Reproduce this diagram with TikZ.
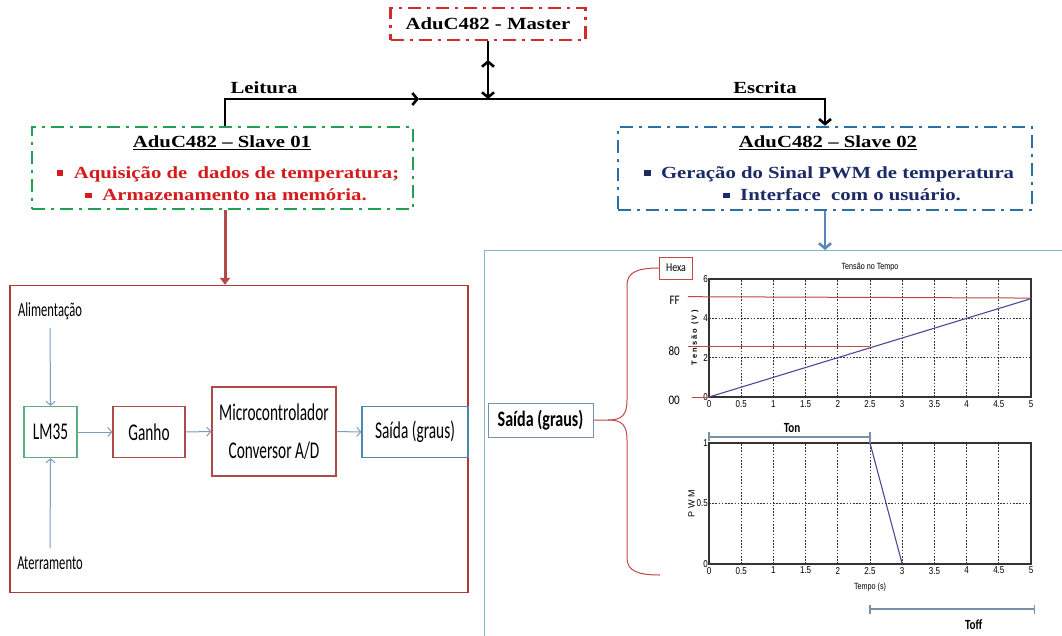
\documentclass[tikz,border=0pt]{standalone}
\usepackage{fontspec}
\setmainfont{Liberation Serif}
\newfontfamily\calfont{Carlito}
\newfontfamily\arifont{Liberation Sans}
\usetikzlibrary{arrows.meta,calc}
\definecolor{mred}{HTML}{D42A2A}
\definecolor{sgreen}{HTML}{20A050}
\definecolor{sblue}{HTML}{2A70A8}
\definecolor{bred}{HTML}{D41C1C}
\definecolor{bnavy}{HTML}{1C2A66}
\definecolor{larr}{HTML}{B24A4A}
\definecolor{rarr}{HTML}{5A86B8}
\definecolor{lpb}{HTML}{B03A3A}
\definecolor{rpb}{HTML}{86B2CC}
\definecolor{thinc}{HTML}{7C9CBC}
\definecolor{boxg}{HTML}{5AAE80}
\definecolor{boxr}{HTML}{B04A4A}
\definecolor{boxb}{HTML}{4A8AAA}
\definecolor{pwmc}{HTML}{4A4A96}
\definecolor{hexc}{HTML}{C04848}
\definecolor{tonc}{HTML}{7890A8}
\definecolor{axc}{HTML}{333333}
\newcommand\tms[1]{\scalebox{1.22}[1]{\fontsize{17}{20}\selectfont\bfseries #1}}
\newcommand\sq{\rule[0.15em]{5.5pt}{5.5pt}}
\newcommand\cf[3]{\scalebox{#2}[1]{\calfont\fontsize{#1}{#1}\selectfont #3}}
\newcommand\cfb[3]{\scalebox{#2}[1]{\calfont\bfseries\fontsize{#1}{#1}\selectfont #3}}
\newcommand\tkf[1]{\scalebox{0.8}[1]{\arifont\fontsize{10}{10}\selectfont #1}}
\begin{document}
\begin{tikzpicture}[x=1pt,y=-1pt,
  dashdot/.style={line width=2.6pt, dash pattern=on 13pt off 6pt on 3pt off 6pt},
  busline/.style={line width=2.6pt, black},
  barb/.style={-{Straight Barb[length=5pt,width=12pt]}},
  txt/.style={inner sep=0pt},
  thinar/.style={draw=thinc, line width=1pt, -{Straight Barb[length=4pt,width=9pt]}},
  blk/.style={line width=1.2pt, inner sep=0pt},
  gridl/.style={axc, line width=0.8pt, dash pattern=on 1.6pt off 1.6pt},
  axisl/.style={axc, line width=1.1pt},
  tk/.style={inner sep=1pt},
  hexl/.style={hexc, line width=1pt},
  tonl/.style={tonc, line width=1.2pt}]
\useasboundingbox (0,0) rectangle (1062,635);
\clip (0,0) rectangle (1062,635);
\fill[white] (0,0) rectangle (1062,635);

% ---- top part ----
\node[dashdot, draw=mred, minimum width=195, minimum height=32, inner sep=0pt] (m) at (488,24) {\tms{AduC482 - Master}};
\node[dashdot, draw=sgreen, minimum width=381, minimum height=82] (s1) at (222.5,168) {};
\node[dashdot, draw=sblue, minimum width=414, minimum height=83] (s2) at (825,168.5) {};
\node[txt] (s1t) at (222,143) {\tms{\underline{AduC482 – Slave 01}}};
\node[txt, text=bred] (s1a) at (228,174) {\tms{\sq\ \ Aquisição de\ \ dados de temperatura;}};
\node[txt, text=bred] (s1b) at (226,195) {\tms{\sq\ \ Armazenamento na memória.}};
\node[txt] (s2t) at (828,143) {\tms{\underline{AduC482 – Slave 02}}};
\node[txt, text=bnavy] (s2a) at (829,174) {\tms{\sq\ \ Geração do Sinal PWM de temperatura}};
\node[txt, text=bnavy] (s2b) at (842,195) {\tms{\sq\ \ Interface\ \ com o usuário.}};
\node[txt] (lei) at (264,88) {\tms{Leitura}};
\node[txt] (esc) at (765,88) {\tms{Escrita}};

\coordinate (bus) at (488,99);
\coordinate (busL) at (225,99);
\coordinate (busM) at (419,99);
\coordinate (busR) at (825,99);
\coordinate (dup) at (488,60);
\draw[busline] (m.south) -- (bus);
\draw[busline, {Straight Barb[length=5pt,width=12pt]}-{Straight Barb[length=5pt,width=12pt]}] (dup) -- (bus);
\draw[busline, barb] (s1.north -| busL) -- (busL) -- (busM);
\draw[busline, barb] (busM) -- (busR) -- (s2.north);

% ---- left panel ----
\node[draw=lpb, line width=1.3pt, minimum width=458, minimum height=307] (lp) at (239,439) {};
\coordinate (la) at (s1.south -| busL);
\draw[larr, line width=3pt, -{Triangle[length=7pt,width=10pt]}] (la) -- (la |- lp.north);
\node[txt] (ali) at (50,311) {\cf{20}{0.63}{Alimentação}};
\node[txt] (ate) at (50,563) {\cf{20}{0.63}{Aterramento}};
\node[draw=boxg, blk, minimum width=53, minimum height=51] (lm) at (50.5,432) {\cf{24}{0.64}{LM35}};
\node[draw=boxr, blk, minimum width=72, minimum height=51] (ga) at (149,432) {\cf{24}{0.64}{Ganho}};
\node[draw=boxr, blk, minimum width=124, minimum height=89, align=center, font=\fontsize{24}{38}\selectfont] (mc) at (274,431.5) {\cf{24}{0.64}{Microcontrolador}\\\cf{24}{0.64}{Conversor A/D}};
\node[draw=boxb, blk, minimum width=106, minimum height=51] (so) at (415,432) {\cf{24}{0.64}{Saída (graus)}};
\draw[thinar, shorten <=8pt] (ali.south) -- (lm.north);
\draw[thinar, shorten <=8pt] (ate.north) -- (lm.south);
\draw[thinar] (lm.east) -- (ga.west);
\draw[thinar] (ga.east) -- (mc.west);
\draw[thinar] (mc.east) -- (so.west);

% ---- right panel ----
\node[draw=rpb, line width=1.3pt, minimum width=600, minimum height=420, anchor=north west] (rp) at (484,250) {};
\draw[rarr, line width=2.6pt, barb] (s2.south) -- (s2.south |- rp.north);
\node[draw=tonc, line width=1pt, minimum width=105, minimum height=34, inner sep=0pt] (so2) at (540.5,420) {\cfb{22}{0.73}{Saída (graus)}};
\node[draw=hexc, line width=1pt, minimum width=33, minimum height=22, inner sep=0pt] (hx) at (676,268) {\cf{12}{0.83}{Hexa}};
\coordinate (brb) at (660,575);
\draw[hexl] (so2.east) -- (608,420) .. controls (622,420) and (627,415) .. (627,400) -- (627,285) .. controls (627,272) and (638,268) .. (hx.west);
\draw[hexl] (608,420) .. controls (622,420) and (627,425) .. (627,440) -- (627,558) .. controls (627,571) and (638,575) .. (brb);

% top chart
\begin{scope}[shift={(709pt,-397pt)}, x=64.4pt, y=19.67pt]
  \foreach \t in {0.5,1,...,4.5} \draw[gridl] (\t,0) -- (\t,6);
  \foreach \v in {2,4} \draw[gridl] (0,\v) -- (5,\v);
  \draw[axisl] (0,0) rectangle (5,6);
  \foreach \t/\l in {0/0,0.5/0.5,1/1,1.5/1.5,2/2,2.5/2.5,3/3,3.5/3.5,4/4,4.5/4.5,5/5}
    \node[tk, anchor=north] at (\t,-0.1) {\tkf{\l}};
  \foreach \v in {0,2,4,6} \node[tk, anchor=east] at (0,\v) {\tkf{\v}};
  \node[inner sep=0pt] (tt) at (2.5,6.6) {\scalebox{0.8}[1]{\arifont\fontsize{9}{9}\selectfont Tensão no Tempo}};
  \node[inner sep=0pt, rotate=90] (ty) at (-0.22,3) {\arifont\bfseries\fontsize{7.5}{8}\selectfont T e n s ã o\ \ ( V )};
  \draw[hexl] (-0.33,5.1) -- (5,5.03);
  \draw[hexl] (-0.33,2.55) -- (2.5,2.55);
  \draw[hexl] (-0.27,0) -- (0,0);
  \draw[pwmc, line width=1.1pt] (0,0) -- (5,5);
  \node[inner sep=0pt, anchor=east] (ff) at (-0.45,4.9) {\cf{13}{0.85}{FF}};
  \node[inner sep=0pt, anchor=east] (e80) at (-0.45,2.35) {\cf{13}{0.85}{80}};
  \node[inner sep=0pt, anchor=east] (e00) at (-0.45,-0.15) {\cf{13}{0.85}{00}};
\end{scope}

% bottom chart
\begin{scope}[shift={(709pt,-564pt)}, x=64.4pt, y=121pt]
  \foreach \t in {0.5,1,...,4.5} \draw[gridl] (\t,0) -- (\t,1);
  \draw[gridl] (0,0.5) -- (5,0.5);
  \draw[axisl] (0,0) rectangle (5,1);
  \foreach \t/\l in {0/0,0.5/0.5,1/1,1.5/1.5,2/2,2.5/2.5,3/3,3.5/3.5,4/4,4.5/4.5,5/5}
    \node[tk, anchor=north] at (\t,-0.015) {\tkf{\l}};
  \foreach \v in {0,0.5,1} \node[tk, anchor=east] at (0,\v) {\tkf{\v}};
  \draw[pwmc, line width=1.1pt] (2.5,1) -- (3,0);
  \node[inner sep=0pt, rotate=90] (py) at (-0.27,0.5) {\arifont\fontsize{9}{9}\selectfont P W M};
  \node[inner sep=0pt] (tx) at (2.5,-0.19) {\scalebox{0.8}[1]{\arifont\fontsize{9}{9}\selectfont Tempo (s)}};
  \draw[tonl] (0,1.05) -- (2.5,1.05);
  \draw[tonl] (0,1.02) -- (0,1.09);
  \draw[tonl] (2.5,1.0) -- (2.5,1.09);
  \node[inner sep=0pt] (ton) at (1.29,1.124) {\cfb{14}{0.8}{Ton}};
  \draw[tonl] (2.5,-0.372) -- (5.06,-0.372);
  \draw[tonl] (2.5,-0.34) -- (2.5,-0.41);
  \draw[tonl] (5.06,-0.34) -- (5.06,-0.41);
  \node[inner sep=0pt] (toff) at (4.11,-0.50) {\cfb{14}{0.8}{Toff}};
\end{scope}
\end{tikzpicture}
\end{document}
